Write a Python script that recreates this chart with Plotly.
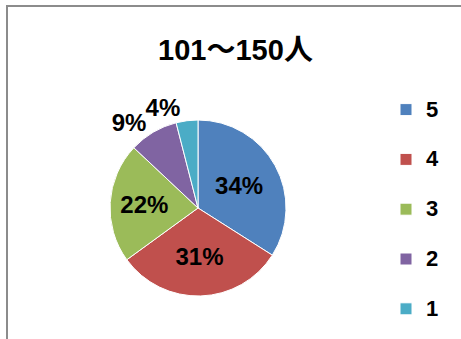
import plotly.graph_objects as go

title_text = "101～150人"
categories = ["5", "4", "3", "2", "1"]
values = [34, 31, 22, 9, 4]
colors = ["#4F81BD", "#C0504D", "#9BBB59", "#8064A2", "#4BACC6"]
# label placement per slice: main pie draws all but "2"; the overlay draws "2"
main_text_pos = ["inside", "inside", "inside", "none", "outside"]
overlay_text_pos = ["none", "none", "none", "outside", "none"]

W, H = 461, 339
cx, cy, r = 198, 208, 88
domain = dict(x=[(cx - r) / W, (cx + r) / W], y=[(H - cy - r) / H, (H - cy + r) / H])
label_font = dict(family="Liberation Sans", size=24, color="black", weight="bold")

fig = go.Figure()
fig.add_trace(go.Pie(
    labels=["&nbsp;<br><span style='font-size:22px'>" + c + "</span>" for c in categories],
    values=values,
    marker=dict(colors=colors, line=dict(color="white", width=1)),
    sort=False,
    direction="clockwise",
    rotation=0,
    texttemplate="%{percent:.0%}",
    textposition=main_text_pos,
    insidetextorientation="horizontal",
    textfont=label_font,
    domain=domain,
    showlegend=True,
))
fig.add_trace(go.Pie(
    labels=categories,
    values=values,
    marker=dict(colors=["rgba(0,0,0,0)"] * len(values), line=dict(width=0)),
    sort=False,
    direction="clockwise",
    rotation=0,
    texttemplate="%{percent:.0%}",
    textposition=overlay_text_pos,
    textfont=label_font,
    domain=domain,
    showlegend=False,
    hoverinfo="skip",
))

fig.update_layout(
    width=W, height=H,
    margin=dict(l=0, r=0, t=0, b=0),
    paper_bgcolor="white",
    plot_bgcolor="white",
    title=dict(text=title_text, x=235.5 / W, xanchor="center", y=1 - 50 / H, yanchor="middle",
               font=dict(family="Liberation Sans, Noto Sans CJK JP", size=29, color="black", weight="bold")),
    legend=dict(x=386 / W, xanchor="left", y=1 - 68 / H, yanchor="top",
                font=dict(family="Liberation Sans", size=18, color="black", weight="bold"),
                valign="bottom", bgcolor="rgba(0,0,0,0)", itemclick=False),
    shapes=[dict(type="rect", xref="paper", yref="paper",
                 x0=7 / W, x1=1 + 10 / W, y0=-10 / H, y1=1 - 6 / H,
                 line=dict(color="#8C8C8C", width=2), fillcolor="rgba(0,0,0,0)")],
)

fig.write_html("out.html", config={"displayModeBar": False},
               post_script="document.body.style.margin='0';")
